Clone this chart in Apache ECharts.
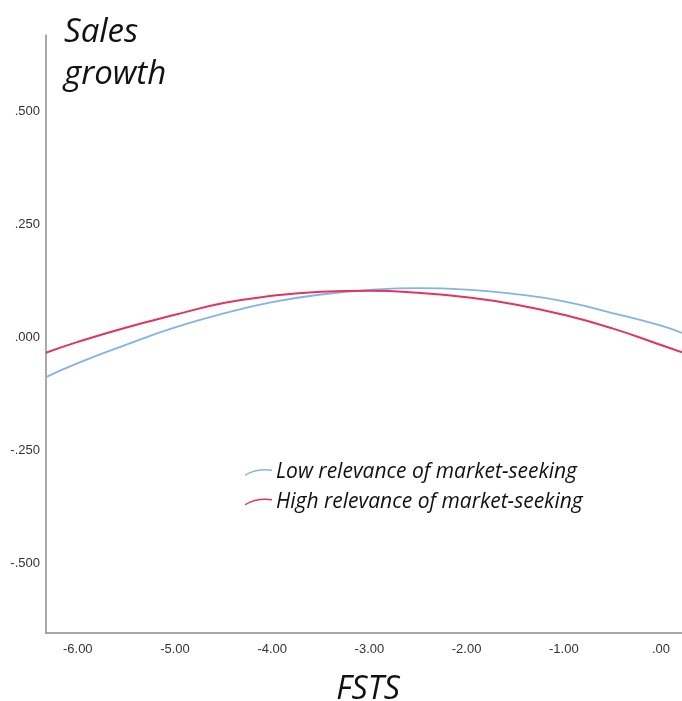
<!DOCTYPE html>
<html>
<head>
<meta charset="utf-8">
<script src="https://cdn.jsdelivr.net/npm/echarts@6/dist/echarts.min.js"></script>
<style>
  html, body { margin: 0; padding: 0; background: #fff; }
  #chart { width: 682px; height: 701px; }
</style>
</head>
<body>
<div id="chart"></div>
<script>
// FSTS positions at which each fitted curve is sampled
var fsts = [-6.327, -6.0, -5.5, -5.0, -4.5, -4.0, -3.5, -3.0, -2.5, -2.0, -1.5, -1.0, -0.5, 0.0, 0.216];
// Predicted sales growth, low relevance of market-seeking
var lowRelevance = [-0.088, -0.057, -0.016, 0.022, 0.053, 0.078, 0.095, 0.105, 0.109, 0.106, 0.096, 0.080, 0.054, 0.026, 0.010];
// Predicted sales growth, high relevance of market-seeking
var highRelevance = [-0.034, -0.010, 0.022, 0.050, 0.076, 0.092, 0.101, 0.1035, 0.099, 0.089, 0.073, 0.050, 0.020, -0.017, -0.033];

var seriesNames = ['Low relevance of market-seeking', 'High relevance of market-seeking'];
var xTicks = [-6, -5, -4, -3, -2, -1, 0];
var yTicks = [-0.5, -0.25, 0, 0.25, 0.5];

function pairs(xs, ys) {
  return xs.map(function (x, i) { return [x, ys[i]]; });
}
// SPSS-style number: no leading zero
function spss(v, digits) {
  var s = Math.abs(v).toFixed(digits).replace(/^0/, '');
  return (v < 0 ? '-' : '') + s;
}

var tickFont = "'Liberation Sans', Arial, sans-serif";
var textFont = "'Open Sans', 'Noto Sans', sans-serif";
var curveIcon = 'path://M0,7 Q12,0 27,2 L27,3.6 Q12,1.6 0,8.6 Z';

var chart = echarts.init(document.getElementById('chart'), null, { renderer: 'canvas' });
chart.setOption({
  animation: false,
  backgroundColor: '#ffffff',
  title: {
    text: 'Sales\ngrowth',
    left: 59,
    top: 7,
    textStyle: {
      fontFamily: textFont,
      fontStyle: 'italic',
      fontWeight: 'normal',
      fontSize: 33,
      lineHeight: 42,
      color: '#111111'
    }
  },
  legend: {
    orient: 'vertical',
    left: 245,
    top: 461,
    padding: 0,
    itemGap: 6.5,
    itemWidth: 27,
    itemHeight: 9,
    data: [
      { name: seriesNames[0], icon: curveIcon },
      { name: seriesNames[1], icon: curveIcon }
    ],
    textStyle: {
      fontFamily: textFont,
      fontStyle: 'italic',
      fontSize: 21,
      lineHeight: 23,
      color: '#111111',
      padding: [0, 0, 0, -1]
    }
  },
  grid: { left: 46, right: 0, top: 35, bottom: 68, containLabel: false, outerBoundsMode: 'none' },
  xAxis: {
    type: 'value',
    min: -6.327,
    max: 0.216,
    name: 'FSTS',
    nameLocation: 'middle',
    nameGap: 41,
    nameTextStyle: {
      fontFamily: textFont,
      fontStyle: 'italic',
      fontSize: 32,
      color: '#111111',
      padding: [0, 0, 0, 8]
    },
    axisLine: { show: true, onZero: false, lineStyle: { color: '#8c8c8c', width: 1.5 } },
    axisTick: { show: false },
    splitLine: { show: false },
    axisLabel: {
      customValues: xTicks,
      margin: 10,
      fontFamily: tickFont,
      fontSize: 13,
      color: '#333333',
      formatter: function (v) { return spss(v, 2); }
    }
  },
  yAxis: {
    type: 'value',
    min: -0.655,
    max: 0.670,
    axisLine: { show: true, onZero: false, lineStyle: { color: '#8c8c8c', width: 1.5 } },
    axisTick: { show: false },
    splitLine: { show: false },
    axisLabel: {
      customValues: yTicks,
      margin: 6,
      fontFamily: tickFont,
      fontSize: 13,
      color: '#333333',
      formatter: function (v) { return spss(v, 3); }
    }
  },
  series: [
    {
      name: seriesNames[0],
      type: 'line',
      smooth: true,
      showSymbol: false,
      color: '#85b3e6',
      lineStyle: { width: 1.8, color: '#85b3e6' },
      itemStyle: { color: '#85b3e6' },
      data: pairs(fsts, lowRelevance)
    },
    {
      name: seriesNames[1],
      type: 'line',
      smooth: true,
      showSymbol: false,
      color: '#e0355f',
      lineStyle: { width: 2, color: '#e0355f' },
      itemStyle: { color: '#e0355f' },
      data: pairs(fsts, highRelevance)
    }
  ]
});
</script>
</body>
</html>
